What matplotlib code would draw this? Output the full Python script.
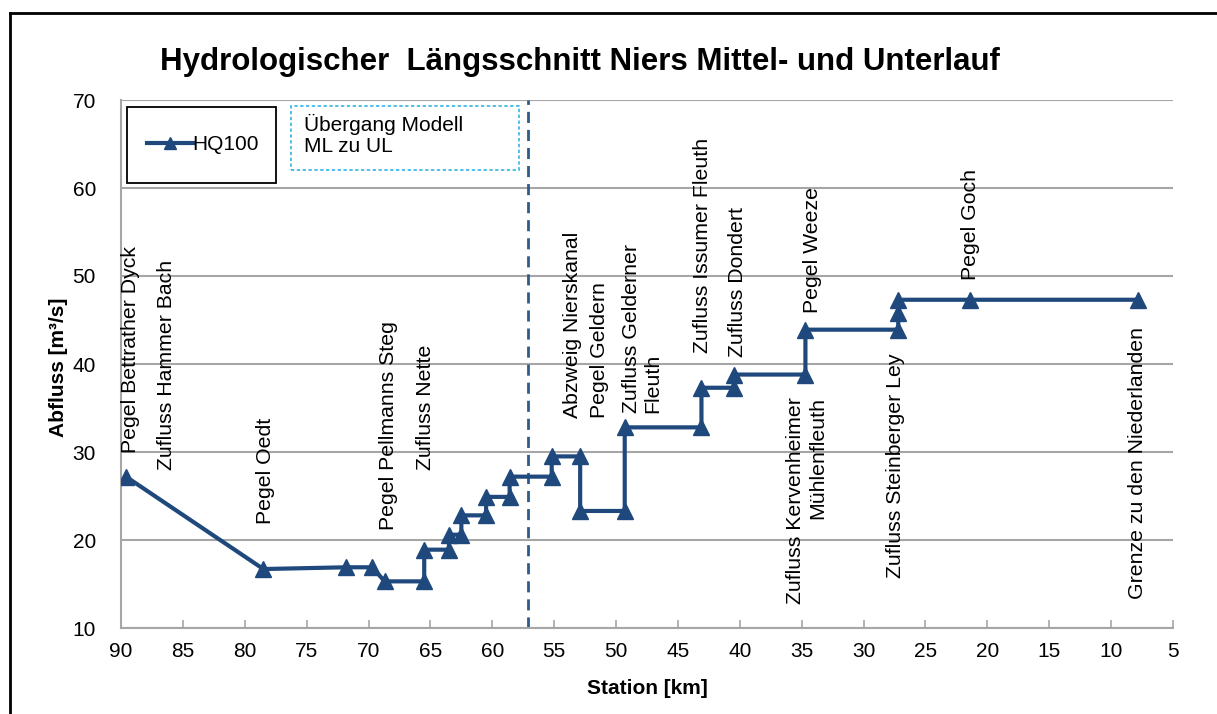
import numpy as np
import matplotlib.pyplot as plt
from matplotlib.patches import Rectangle
from matplotlib.lines import Line2D

plt.rcParams['font.family'] = ['Liberation Sans', 'DejaVu Sans']

# HQ100 longitudinal profile (station in km, discharge in m³/s)
station = [89.6, 78.5, 71.8, 69.7, 68.7, 65.5, 65.5, 63.5, 63.5, 62.5, 62.5,
           60.5, 60.5, 58.6, 58.6, 55.2, 55.2, 52.9, 52.9, 49.3, 49.3, 43.1,
           43.1, 40.5, 40.5, 34.7, 34.7, 27.2, 27.2, 27.2, 21.4, 7.8]
hq100 = [27.2, 16.7, 16.9, 16.9, 15.3, 15.3, 18.9, 18.9, 20.6, 20.6, 22.8,
         22.8, 24.9, 24.9, 27.2, 27.2, 29.5, 29.5, 23.3, 23.3, 32.8, 32.8,
         37.3, 37.3, 38.8, 38.8, 43.9, 43.9, 45.8, 47.3, 47.3, 47.3]

model_change_km = 57.1

label_names = ["Pegel Bettrather Dyck", "Zufluss Hammer Bach", "Pegel Oedt",
               "Pegel Pellmanns Steg", "Zufluss Nette", "Abzweig Nierskanal",
               "Pegel Geldern", "Zufluss Gelderner\nFleuth",
               "Zufluss Issumer Fleuth", "Zufluss Dondert", "Pegel Weeze",
               "Zufluss Kervenheimer\nMühlenfleuth", "Zufluss Steinberger Ley",
               "Pegel Goch", "Grenze zu den Niederlanden"]

# label anchors (x km, y m³/s, above/below line)
label_pos = [(89.27, 29.9, "b"), (86.3, 27.95, "b"), (78.3, 21.8, "b"),
             (68.4, 21.1, "b"), (65.4, 27.9, "b"), (53.5, 33.9, "b"),
             (51.3, 33.9, "b"), (47.9, 34.4, "b"), (43.0, 41.25, "b"),
             (40.15, 40.8, "b"), (34.1, 45.8, "b"), (34.6, 36.25, "t"),
             (27.46, 41.25, "t"), (21.4, 49.5, "b"), (7.9, 44.2, "t")]

W, H = 1217, 714
fig = plt.figure(figsize=(W / 100, H / 100), dpi=100)
ax = fig.add_axes([121 / W, 1 - 628 / H, (1173 - 121) / W, (628 - 100) / H])

line_col = "#1F497D"
grid_col = "#A6A6A6"

ax.plot(station, hq100, color=line_col, lw=3, marker="^", ms=11,
        markeredgecolor=line_col, zorder=3)
ax.axvline(model_change_km, color="#2E5C8A", lw=2, ls=(0, (4, 2.5)), zorder=2)

for name, (lx, ly, side) in zip(label_names, label_pos):
    if side == "b":
        ax.text(lx, ly, name, rotation=90, ha="center", va="bottom",
                fontsize=15.3, multialignment="left", linespacing=1.2)
    else:
        ax.text(lx, ly, name, rotation=90, ha="center", va="top",
                fontsize=15.3, multialignment="right", linespacing=1.2)

ax.set_xlim(90, 5)
ax.set_ylim(10, 70)
ax.set_xticks(np.arange(90, 4, -5))
ax.set_yticks(np.arange(10, 71, 10))
ax.yaxis.grid(True, color=grid_col, lw=1.5)
ax.set_axisbelow(True)
for s in ["top", "right"]:
    ax.spines[s].set_visible(False)
for s in ["left", "bottom"]:
    ax.spines[s].set_color(grid_col)
    ax.spines[s].set_linewidth(1.5)
ax.tick_params(axis="x", direction="in", length=6, color=grid_col, width=1.2,
               labelsize=15, pad=10)
ax.tick_params(axis="y", length=0, labelsize=15, pad=18)

fig.text(580 / W, 1 - 62 / H,
         "Hydrologischer  Längsschnitt Niers Mittel- und Unterlauf",
         ha="center", va="center", fontsize=22.5, fontweight="bold")
fig.text(59 / W, 1 - 367 / H, "Abfluss [m³/s]", rotation=90, ha="center",
         va="center", fontsize=15, fontweight="bold")
fig.text(647 / W, 1 - 688 / H, "Station [km]", ha="center", va="center",
         fontsize=15, fontweight="bold")

# legend box
fig.patches.append(Rectangle((127 / W, 1 - 183 / H), 149 / W, 76 / H,
                             transform=fig.transFigure, fill=False,
                             edgecolor="black", lw=1.3))
fig.legend([Line2D([], [], color=line_col, lw=3, marker="^", ms=8)], ["HQ100"],
           loc="center", bbox_to_anchor=(203 / W, 1 - 145 / H), frameon=False,
           fontsize=15, handlelength=2.2, handletextpad=0.0)

# model transition box
fig.patches.append(Rectangle((291 / W, 1 - 170 / H), 228 / W, 64 / H,
                             transform=fig.transFigure, fill=False,
                             edgecolor="#33B5E5", lw=1.2, ls=(0, (2, 1.5))))
fig.text(304 / W, 1 - 114 / H, "Übergang Modell\nML zu UL", ha="left",
         va="top", fontsize=15, linespacing=1.15)

# outer frame (cut at right/bottom)
fig.add_artist(Line2D([10 / W, 1.0], [1 - 13 / H, 1 - 13 / H],
                      transform=fig.transFigure, color="black", lw=2))
fig.add_artist(Line2D([10 / W, 10 / W], [0, 1 - 13 / H],
                      transform=fig.transFigure, color="black", lw=2))

fig.savefig("out.png", dpi=100)
